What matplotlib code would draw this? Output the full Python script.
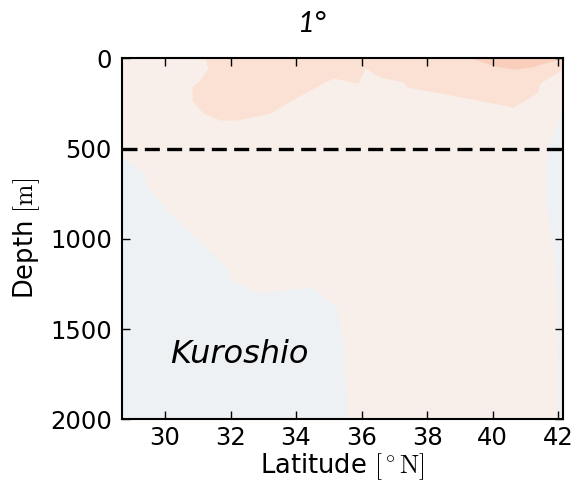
import numpy as np
import matplotlib.pyplot as plt

plt.rcParams["mathtext.fontset"] = "cm"

# anomaly regions (latitude [deg N], depth [m])
salmon_lat = [31.23, 31.33, 31.08, 30.84, 30.84, 31.17, 31.69, 32.21, 33.22, 34.04,
              35.14, 35.90, 36.12, 36.58, 37.28, 37.40, 38.41, 40.64, 41.37, 41.46,
              42.20, 42.20]
salmon_depth = [0, 56, 122, 161, 233, 306, 344, 344, 306, 217,
                111, 140, 56, 106, 133, 161, 194, 272, 194, 139,
                56, 0]

dark_lat = [39.40, 39.60, 40.20, 40.70, 41.20, 41.70, 42.20]
dark_depth = [0, 17, 50, 61, 50, 22, 0]

kuroshio_lat = [28.60, 28.85, 29.40, 29.40, 30.17, 31.90, 32.00, 32.50, 32.90, 34.50,
                35.26, 35.45, 35.57, 28.60]
kuroshio_depth = [530, 567, 633, 694, 861, 1161, 1217, 1272, 1300, 1272,
                  1383, 1567, 2000, 2000]

east_lat = [42.20, 42.10, 41.95, 41.77, 41.62, 41.62, 41.86, 41.98, 42.01, 42.20]
east_depth = [250, 300, 390, 450, 605, 789, 1067, 1344, 2000, 2000]

xticks = [30, 32, 34, 36, 38, 40, 42]
yticks = [0, 500, 1000, 1500, 2000]

fig = plt.figure(figsize=(5.74, 4.87), dpi=100)
ax = fig.add_axes([0.212, 0.139, 0.768, 0.741])
ax.set_facecolor("#f8efea")

ax.fill(salmon_lat, salmon_depth, color="#fbe1d4", lw=0)
ax.fill(dark_lat, dark_depth, color="#f9cfbb", lw=0)
ax.fill(kuroshio_lat, kuroshio_depth, color="#edf1f4", lw=0)
ax.fill(east_lat, east_depth, color="#edf1f4", lw=0)

ax.axhline(500, color="k", lw=2.4, ls=(0, (4.5, 2.2)))

ax.set_xlim(28.68, 42.13)
ax.set_ylim(2000, 0)
ax.set_xticks(xticks)
ax.set_yticks(yticks)
ax.tick_params(direction="in", length=6, width=1, top=True, right=True,
               labelsize=17.5)
ax.tick_params(axis="x", pad=5)
ax.tick_params(axis="y", pad=7)
for s in ax.spines.values():
    s.set_linewidth(1.5)

ax.set_xlabel(r"Latitude $[^\circ\mathrm{N}]$", fontsize=18.5, labelpad=1)
ax.set_ylabel(r"Depth $[\mathrm{m}]$", fontsize=18.5, labelpad=6)

ax.text(30.15, 1690, "Kuroshio", fontsize=23, style="italic",
        family="DejaVu Sans", va="baseline")
fig.text(0.542, 0.934, "1°", fontsize=21, style="italic", family="Lato",
         ha="center", va="baseline")

fig.savefig("out.png", dpi=100)
